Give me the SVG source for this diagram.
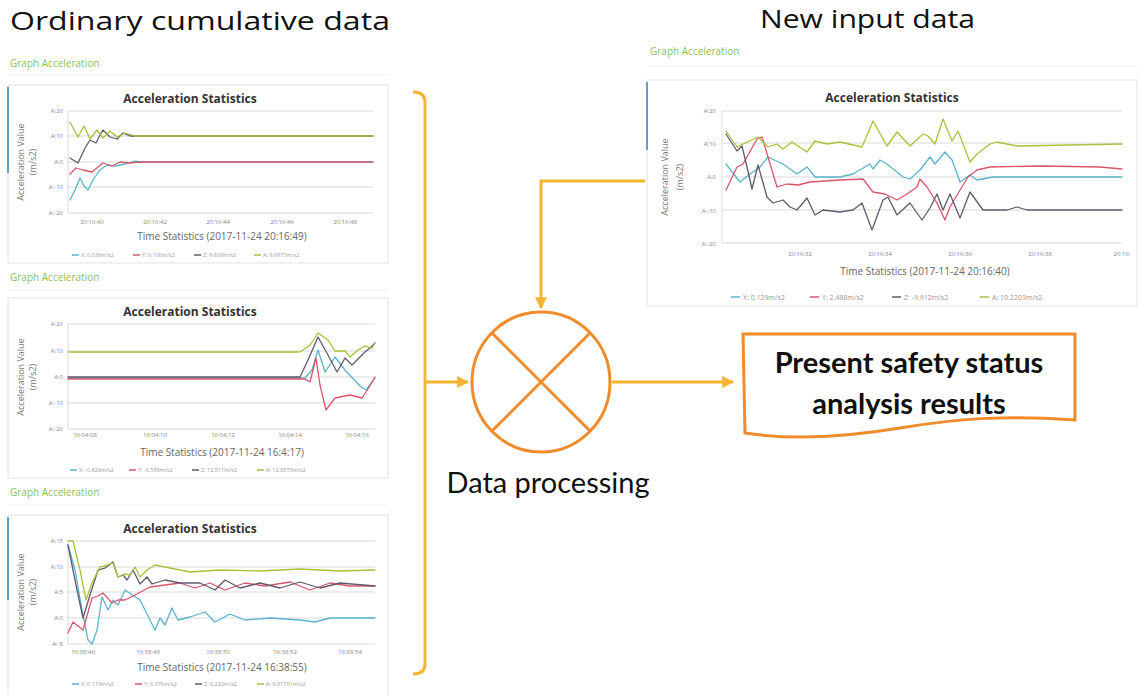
<svg xmlns="http://www.w3.org/2000/svg" width="1141" height="695" viewBox="0 0 1141 695">
<defs>
<marker id="ah" viewBox="0 0 10 10" refX="9" refY="5" markerWidth="4" markerHeight="4" orient="auto"><path d="M0,0 L10,5 L0,10 z" fill="#F6B531"/></marker>
<style>
.head{font-family:"Open Sans","Noto Sans",sans-serif;font-size:26px;fill:#111}
.ga{font-family:"Open Sans",sans-serif;font-size:10px;fill:#8cc152}
.box{fill:#fff;stroke:#e3e3e3;stroke-width:1}
.acc{stroke:#6a9cc0;stroke-width:2}
.div{stroke:#eeeeee;stroke-width:1}
.ct{font-family:"Open Sans",sans-serif;font-weight:bold;font-size:12px;fill:#333;text-anchor:middle}
.grid{stroke:#d9d9d9;stroke-width:1}
.yl{font-family:"Open Sans",sans-serif;font-size:6px;fill:#888;text-anchor:end}
.xl{font-family:"Open Sans",sans-serif;font-size:6px;fill:#888;text-anchor:middle}
.at{font-family:"Open Sans",sans-serif;font-size:9px;fill:#777;text-anchor:middle}
.tt{font-family:"Open Sans",sans-serif;font-size:10px;fill:#666;text-anchor:middle}
.lg{font-family:"Open Sans",sans-serif;font-size:5.5px;fill:#999}
.s{fill:none;stroke-width:1.3;stroke-linejoin:round;stroke-linecap:round}
.sx{stroke:#5ab4cc}.sy{stroke:#d9566a}.sz{stroke:#5f5a70}.sa{stroke:#a9c13a}
.con{fill:none;stroke:#F6B531;stroke-width:3}
.big{font-family:"Lato","Open Sans",sans-serif;font-size:29px;fill:#111}
</style>
</defs>
<rect width="1141" height="695" fill="#fff"/>
<text class="head" x="10" y="30" textLength="380" lengthAdjust="spacingAndGlyphs">Ordinary cumulative data</text>
<text class="head" x="760" y="28" textLength="215" lengthAdjust="spacingAndGlyphs">New input data</text>

<g id="chart1">
<text class="ga" x="10" y="67">Graph Acceleration</text>
<line class="div" x1="8" y1="75" x2="388" y2="75"/>
<rect class="box" x="8" y="85" width="380" height="178"/>
<line class="acc" x1="8" y1="87" x2="8" y2="173"/>
<text class="ct" x="190" y="103">Acceleration Statistics</text>
<g class="grid"><line x1="68" y1="111" x2="373" y2="111"/><line x1="68" y1="136" x2="373" y2="136"/><line x1="68" y1="162" x2="373" y2="162"/><line x1="68" y1="187" x2="373" y2="187"/><line x1="68" y1="213" x2="373" y2="213"/><line x1="68" y1="111" x2="68" y2="213"/></g>
<text class="yl" x="63" y="113">A:20</text><text class="yl" x="63" y="138">A:10</text><text class="yl" x="63" y="164">A:0</text><text class="yl" x="63" y="189">A:-10</text><text class="yl" x="63" y="215">A:-20</text>
<text class="xl" x="92" y="224">20:16:40</text><text class="xl" x="155" y="224">20:16:42</text><text class="xl" x="218" y="224">20:16:44</text><text class="xl" x="282" y="224">20:16:46</text><text class="xl" x="345" y="224">20:16:48</text>
<text class="at" transform="translate(24,162) rotate(-90)">Acceleration Value</text>
<text class="at" transform="translate(36,162) rotate(-90)">(m/s2)</text>
<text class="tt" x="222" y="240">Time Statistics (2017-11-24 20:16:49)</text>
<polyline class="s sx" points="70,200 75,190 80,178 84,186 88,190 93,180 100,170 107,165 115,166 125,164 135,161 140,162 373,162"/>
<polyline class="s sz" points="70,158 78,163 85,148 90,140 96,143 100,135 103,130 110,137 117,139 123,133 130,136 373,136"/>
<polyline class="s sy" points="70,174 76,168 83,170 92,172 98,167 103,163 112,166 120,162 130,163 140,162 373,162"/>
<polyline class="s sa" points="70,122 78,137 84,126 90,139 97,130 103,138 110,131 117,137 125,133 135,136 373,136"/>
<g class="lg"><line class="sx" x1="72" y1="255" x2="79" y2="255" stroke-width="1.5"/><text x="81" y="257">X: 0.036m/s2</text><line class="sy" x1="133" y1="255" x2="140" y2="255" stroke-width="1.5"/><text x="142" y="257">Y: 0.100m/s2</text><line class="sz" x1="194" y1="255" x2="201" y2="255" stroke-width="1.5"/><text x="203" y="257">Z: 9.608m/s2</text><line class="sa" x1="254" y1="255" x2="261" y2="255" stroke-width="1.5"/><text x="263" y="257">A: 9.6971m/s2</text></g>
</g>

<g id="chart2">
<text class="ga" x="10" y="281">Graph Acceleration</text>
<line class="div" x1="8" y1="290" x2="388" y2="290"/>
<rect class="box" x="8" y="298" width="380" height="180"/>
<text class="ct" x="190" y="316">Acceleration Statistics</text>
<g class="grid"><line x1="68" y1="324" x2="375" y2="324"/><line x1="68" y1="351" x2="375" y2="351"/><line x1="68" y1="377" x2="375" y2="377"/><line x1="68" y1="403" x2="375" y2="403"/><line x1="68" y1="429" x2="375" y2="429"/><line x1="68" y1="324" x2="68" y2="429"/></g>
<text class="yl" x="63" y="326">A:20</text><text class="yl" x="63" y="353">A:10</text><text class="yl" x="63" y="379">A:0</text><text class="yl" x="63" y="405">A:-10</text><text class="yl" x="63" y="431">A:-20</text>
<text class="xl" x="85" y="437">16:04:08</text><text class="xl" x="155" y="437">16:04:10</text><text class="xl" x="223" y="437">16:04:12</text><text class="xl" x="290" y="437">16:04:14</text><text class="xl" x="357" y="437">16:04:16</text>
<text class="at" transform="translate(24,377) rotate(-90)">Acceleration Value</text>
<text class="at" transform="translate(36,377) rotate(-90)">(m/s2)</text>
<text class="tt" x="222" y="456">Time Statistics (2017-11-24 16:4:17)</text>
<polyline class="s sx" points="68,378 305,378 312,370 318,350 325,372 335,357 345,370 360,386 366,390 375,378"/>
<polyline class="s sy" points="68,379 305,379 310,382 316,358 320,385 326,410 335,398 350,395 362,398 368,389 375,377"/>
<polyline class="s sz" points="68,377 300,377 308,360 318,337 328,355 337,372 345,358 352,365 365,352 370,348 375,343"/>
<polyline class="s sa" points="68,352 300,352 310,345 318,333 328,340 335,351 345,351 350,357 358,350 365,346 372,348 375,343"/>
<g class="lg"><line class="sx" x1="70" y1="470" x2="77" y2="470" stroke-width="1.5"/><text x="79" y="472">X: -0.828m/s2</text><line class="sy" x1="129" y1="470" x2="136" y2="470" stroke-width="1.5"/><text x="138" y="472">Y: -0.559m/s2</text><line class="sz" x1="192" y1="470" x2="199" y2="470" stroke-width="1.5"/><text x="201" y="472">Z: 12.511m/s2</text><line class="sa" x1="257" y1="470" x2="264" y2="470" stroke-width="1.5"/><text x="266" y="472">A: 12.8573m/s2</text></g>
</g>

<g id="chart3">
<text class="ga" x="10" y="496">Graph Acceleration</text>
<line class="div" x1="8" y1="505" x2="388" y2="505"/>
<rect class="box" x="8" y="515" width="380" height="182"/>
<line class="acc" x1="8" y1="517" x2="8" y2="600"/>
<text class="ct" x="190" y="533">Acceleration Statistics</text>
<g class="grid"><line x1="68" y1="541" x2="375" y2="541"/><line x1="68" y1="567" x2="375" y2="567"/><line x1="68" y1="592" x2="375" y2="592"/><line x1="68" y1="618" x2="375" y2="618"/><line x1="68" y1="644" x2="375" y2="644"/><line x1="68" y1="541" x2="68" y2="644"/></g>
<text class="yl" x="63" y="543">A:15</text><text class="yl" x="63" y="569">A:10</text><text class="yl" x="63" y="594">A:5</text><text class="yl" x="63" y="620">A:0</text><text class="yl" x="63" y="646">A:-5</text>
<text class="xl" x="83" y="654">16:38:46</text><text class="xl" x="148" y="654">16:38:48</text><text class="xl" x="218" y="654">16:38:50</text><text class="xl" x="285" y="654">16:38:52</text><text class="xl" x="350" y="654">16:38:54</text>
<text class="at" transform="translate(24,592) rotate(-90)">Acceleration Value</text>
<text class="at" transform="translate(36,592) rotate(-90)">(m/s2)</text>
<text class="tt" x="222" y="671">Time Statistics (2017-11-24 16:38:55)</text>
<polyline class="s sx" points="68,545 75,570 82,610 88,640 92,644 97,630 102,597 108,610 113,600 118,605 125,590 140,600 150,620 155,630 160,618 165,625 172,608 178,620 190,617 205,612 215,622 230,614 245,620 270,618 300,620 315,622 330,618 375,618"/>
<polyline class="s sy" points="68,633 73,622 78,626 83,630 92,598 98,596 103,593 112,603 118,600 125,600 135,595 150,587 165,585 180,583 195,588 210,583 225,590 245,583 265,586 290,582 310,590 330,583 350,586 375,586"/>
<polyline class="s sz" points="68,545 75,580 80,604 83,618 90,595 98,570 105,568 113,562 118,577 123,575 127,580 133,570 140,584 147,577 152,584 165,580 180,583 200,583 215,590 225,580 240,588 260,583 280,588 300,582 320,588 340,583 375,586"/>
<polyline class="s sa" points="68,541 73,541 80,570 86,600 92,583 100,567 107,565 113,563 118,577 125,574 130,575 135,567 140,577 147,570 155,565 165,567 175,569 190,572 220,570 260,571 300,569 340,571 375,570"/>
<g class="lg"><line class="sx" x1="72" y1="684" x2="79" y2="684" stroke-width="1.5"/><text x="81" y="686">X: 0.119m/s2</text><line class="sy" x1="135" y1="684" x2="142" y2="684" stroke-width="1.5"/><text x="144" y="686">Y: 6.376m/s2</text><line class="sz" x1="195" y1="684" x2="202" y2="684" stroke-width="1.5"/><text x="204" y="686">Z: 6.232m/s2</text><line class="sa" x1="257" y1="684" x2="264" y2="684" stroke-width="1.5"/><text x="266" y="686">A: 9.01701m/s2</text></g>
</g>

<g id="chart4">
<text class="ga" x="650" y="55" font-size="11">Graph Acceleration</text>
<line class="div" x1="648" y1="66" x2="1137" y2="66"/>
<rect class="box" x="647" y="80" width="490" height="226"/>
<line class="acc" x1="647" y1="82" x2="647" y2="150"/>
<text class="ct" x="892" y="102" font-size="15">Acceleration Statistics</text>
<g class="grid"><line x1="722" y1="111" x2="1122" y2="111"/><line x1="722" y1="143" x2="1122" y2="143"/><line x1="722" y1="177" x2="1122" y2="177"/><line x1="722" y1="210" x2="1122" y2="210"/><line x1="722" y1="243" x2="1122" y2="243"/><line x1="722" y1="111" x2="722" y2="243"/></g>
<text class="yl" x="716" y="113" font-size="8">A:20</text><text class="yl" x="716" y="146" font-size="8">A:10</text><text class="yl" x="716" y="179" font-size="8">A:0</text><text class="yl" x="716" y="213" font-size="8">A:-10</text><text class="yl" x="716" y="246" font-size="8">A:-20</text>
<text class="xl" x="800" y="256" font-size="8">20:16:32</text><text class="xl" x="880" y="256" font-size="8">20:16:34</text><text class="xl" x="960" y="256" font-size="8">20:16:36</text><text class="xl" x="1040" y="256" font-size="8">20:16:38</text><text class="xl" x="1122" y="256" font-size="8">20:16:</text>
<text class="at" font-size="12" transform="translate(668,177) rotate(-90)">Acceleration Value</text>
<text class="at" font-size="12" transform="translate(683,177) rotate(-90)">(m/s2)</text>
<text class="tt" x="925" y="275" font-size="13">Time Statistics (2017-11-24 20:16:40)</text>
<polyline class="s sx" points="726,164 740,182 750,174 760,167 768,157 783,164 797,174 807,167 815,177 840,177 853,174 870,164 873,169 880,160 887,164 903,177 910,179 920,170 930,157 935,164 945,152 952,160 960,182 970,175 977,180 993,177 1122,177"/>
<polyline class="s sy" points="726,190 737,167 743,164 757,139 762,137 768,157 777,187 787,184 798,185 810,182 840,180 863,179 873,192 885,194 897,200 907,194 917,187 920,179 927,187 937,203 945,220 950,207 960,190 968,177 977,170 990,167 1040,166 1100,167 1122,169"/>
<polyline class="s sz" points="726,134 737,151 742,146 747,167 752,189 758,165 767,197 773,203 783,200 790,207 797,210 807,198 815,215 823,210 840,212 853,210 862,203 872,230 883,200 888,197 897,215 910,203 922,220 930,208 937,194 943,210 950,194 960,218 970,192 983,210 1007,210 1017,207 1027,210 1122,210"/>
<polyline class="s sa" points="726,131 737,147 743,144 758,137 768,147 777,144 783,149 792,142 807,152 815,141 827,144 840,142 862,147 873,121 887,146 897,132 910,146 923,134 928,136 935,144 943,119 952,141 958,131 970,162 977,154 990,144 997,142 1017,146 1122,144"/>
<g class="lg" font-size="7"><line class="sx" x1="731" y1="297" x2="740" y2="297" stroke-width="1.5"/><text x="743" y="299.5" font-size="7">X: 0.129m/s2</text><line class="sy" x1="810" y1="297" x2="819" y2="297" stroke-width="1.5"/><text x="822" y="299.5" font-size="7">Y: 2.488m/s2</text><line class="sz" x1="892" y1="297" x2="901" y2="297" stroke-width="1.5"/><text x="904" y="299.5" font-size="7">Z: -9.912m/s2</text><line class="sa" x1="980" y1="297" x2="989" y2="297" stroke-width="1.5"/><text x="992" y="299.5" font-size="7">A: 10.2203m/s2</text></g>
</g>

<g id="connectors">
<path class="con" d="M413,92 Q425,92 425,102 L425,664 Q425,674 413,674"/>
<path class="con" d="M425,382 L468,382" marker-end="url(#ah)"/>
<path class="con" d="M645,181 L541,181 L541,308" marker-end="url(#ah)"/>
<path class="con" d="M612,382 L733,382" marker-end="url(#ah)"/>
</g>

<g id="processor">
<ellipse cx="541" cy="382" rx="69" ry="70" fill="none" stroke="#F08C2B" stroke-width="3"/>
<line x1="492" y1="333" x2="590" y2="431" stroke="#F08C2B" stroke-width="3"/>
<line x1="590" y1="333" x2="492" y2="431" stroke="#F08C2B" stroke-width="3"/>
<text class="big" x="548" y="493" text-anchor="middle" font-size="30">Data processing</text>
</g>

<g id="result">
<path d="M743,334 L1075,334 L1075,420 C1010,415 960,418 900,428 C840,438 790,440 745,433 Z" fill="#fff" stroke="#F08C2B" stroke-width="3"/>
<text class="big" x="909" y="373" text-anchor="middle" font-weight="bold" font-size="31">Present safety status</text>
<text class="big" x="909" y="414" text-anchor="middle" font-weight="bold" font-size="31">analysis results</text>
</g>
</svg>
